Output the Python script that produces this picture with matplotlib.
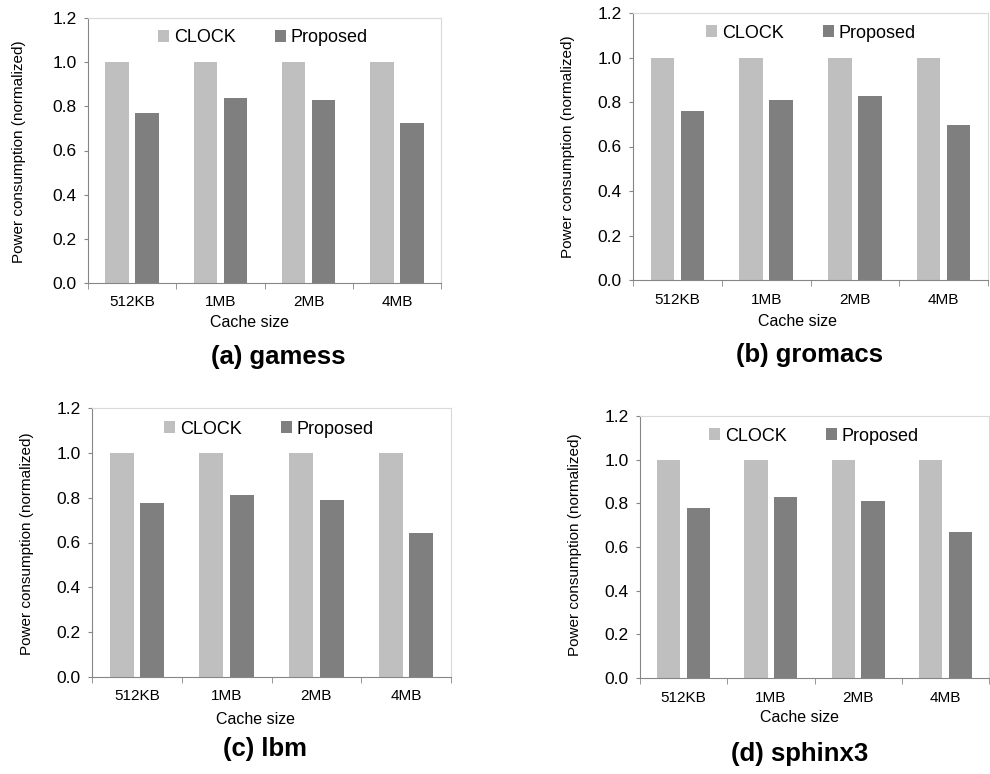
import numpy as np
import matplotlib.pyplot as plt

plt.rcParams['font.family'] = ['Liberation Sans', 'DejaVu Sans']

# Data
cache_sizes = ["512KB", "1MB", "2MB", "4MB"]
clock = [1.0, 1.0, 1.0, 1.0]
gamess = [0.772, 0.839, 0.830, 0.724]
gromacs = [0.760, 0.808, 0.825, 0.695]
lbm = [0.774, 0.814, 0.790, 0.644]
sphinx3 = [0.777, 0.827, 0.809, 0.667]

titles = ["(a) gamess", "(b) gromacs", "(c) lbm", "(d) sphinx3"]
series = [gamess, gromacs, lbm, sphinx3]

W, H = 990, 774
# panel layout in pixels: axes box, legend center, xlabel, ylabel, title
panels = [
    dict(box=(88, 18, 441, 283), leg=(263, 38), xl=(249, 323), yl=(19, 152), tt=(278, 357)),
    dict(box=(633, 13, 988, 280), leg=(811, 33), xl=(797, 322), yl=(568, 147), tt=(809, 355)),
    dict(box=(92, 408, 451, 677), leg=(269, 429), xl=(255, 719), yl=(27, 544), tt=(265, 749)),
    dict(box=(640, 416, 989, 678), leg=(814, 436), xl=(799, 718), yl=(575, 545), tt=(800, 754)),
]

clock_color = "#BFBFBF"
prop_color = "#7F7F7F"

fig = plt.figure(figsize=(W / 100, H / 100), dpi=100)

x = np.arange(len(cache_sizes))
bw = 0.265

for p, vals, title in zip(panels, series, titles):
    l, t, r, b = p["box"]
    ax = fig.add_axes([l / W, 1 - b / H, (r - l) / W, (b - t) / H])
    ax.bar(x - 0.17, clock, bw, color=clock_color, label="CLOCK")
    ax.bar(x + 0.17, vals, bw, color=prop_color, label="Proposed")
    ax.set_xlim(-0.5, 3.5)
    ax.set_ylim(0, 1.2)
    ax.set_yticks(np.arange(0, 1.21, 0.2))
    ax.set_yticklabels([f"{v:.1f}" for v in np.arange(0, 1.21, 0.2)], fontsize=12.5)
    ax.set_xticks(x)
    ax.set_xticklabels(cache_sizes, fontsize=11)
    ax.tick_params(axis="x", length=0, pad=9)
    ax.set_xticks(np.arange(-0.5, 3.6, 1), minor=True)
    ax.tick_params(axis="x", which="minor", length=4, color="#868686", direction="out")
    ax.tick_params(axis="y", length=3, color="#868686", pad=5)
    for side in ["top", "right"]:
        ax.spines[side].set_color("#D9D9D9")
    ax.spines["left"].set_color("#868686")
    ax.spines["bottom"].set_color("#868686")
    for s in ax.spines.values():
        s.set_linewidth(0.8)

    ax.legend(loc="center", bbox_to_anchor=(p["leg"][0] / W, 1 - p["leg"][1] / H),
              bbox_transform=fig.transFigure, ncol=2, frameon=False, fontsize=13,
              handlelength=0.6, handleheight=0.6, handletextpad=0.25, columnspacing=2.2)

    fig.text(p["xl"][0] / W, 1 - p["xl"][1] / H, "Cache size", ha="center", va="center", fontsize=11.5)
    fig.text(p["yl"][0] / W, 1 - p["yl"][1] / H, "Power consumption (normalized)",
             ha="center", va="center", rotation=90, fontsize=11)
    fig.text(p["tt"][0] / W, 1 - p["tt"][1] / H, title, ha="center", va="center",
             fontsize=18.5, fontweight="bold")

fig.savefig("out.png", dpi=100)
